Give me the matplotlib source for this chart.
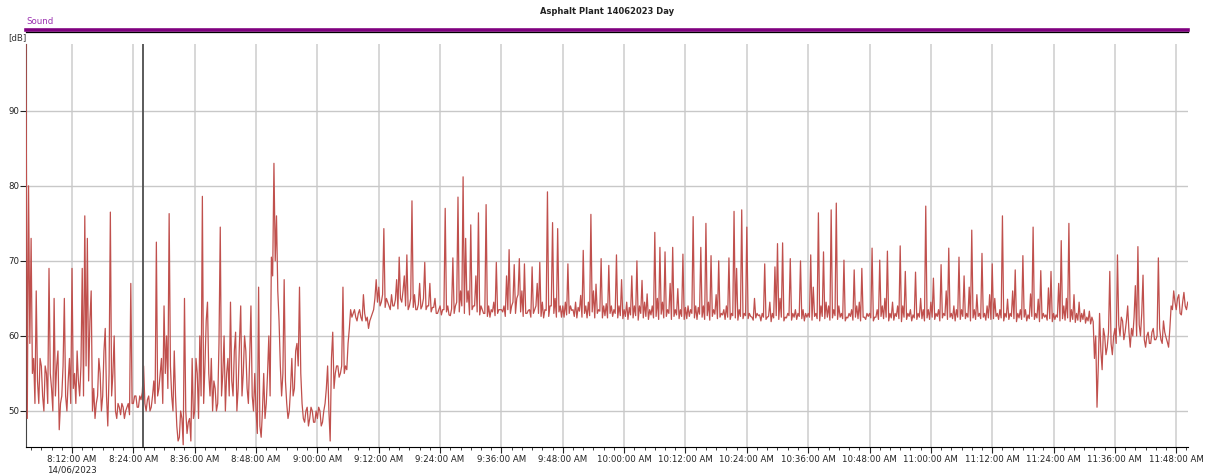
import matplotlib
matplotlib.use('Agg')
import matplotlib.dates as mdates
import matplotlib.pyplot as plt
import pandas as pd
from matplotlib.lines import Line2D
from matplotlib.ticker import FuncFormatter

TITLE = 'Asphalt Plant 14062023 Day'
CHANNEL = 'Sound'
UNIT = '[dB]'
DATE_LABEL = '14/06/2023'
START = '2023-06-14 08:03:00'
END = '2023-06-14 11:50:12'
STEP = '15s'
CURSOR = '2023-06-14 08:25:50'
Y_TICKS = [50, 60, 70, 80, 90]

# sound level [dB] per 12 min block
# seg_xxxx   -> readings at :00 / :30
# seg_xxxx_b -> readings at :15 / :45
seg_0803 = [98.9, 80, 73, 57, 66, 51, 56, 50, 55, 69, 53, 65, 56, 47.5, 52, 65, 50, 57]
seg_0803_b = [49, 59, 55, 51, 54, 57, 52, 56, 51, 55, 50, 52, 58, 51, 56, 52, 54, 51]
seg_0812 = [69, 55, 58, 52, 69, 76, 73, 62, 50, 49, 52, 55, 52, 61, 48, 76.5, 55, 50, 51, 49.5, 50.5, 50, 51, 67]
seg_0812_b = [53, 51, 54, 56, 52, 56, 54, 66, 53, 51, 57, 50, 58, 52, 55, 52, 60, 49, 50.5, 51, 49, 50.5, 49.5, 51]
seg_0824 = [51, 52, 50.5, 51.5, 56, 50, 52, 50.5, 54, 72.5, 53, 57, 64, 60, 76.3, 52, 58, 48, 46.5, 49, 65, 47, 49, 57]
seg_0824_b = [52, 50.5, 52, 52.5, 51, 51.5, 50, 52, 51, 52, 55, 51, 55, 53, 56, 50, 52, 46, 50, 45.5, 50, 48.5, 46, 49]
seg_0836 = [50, 55, 60, 78.6, 56, 64.5, 52, 50, 53, 51, 74.5, 55, 50, 57, 64.5, 52, 60.5, 53, 64, 55, 58, 51, 64, 50]
seg_0836_b = [57, 49, 52, 51, 62, 55, 57, 54, 50, 59, 52, 60, 55, 52, 54, 58, 50, 59, 52, 60, 53, 57, 52, 55]
seg_0848 = [50, 66.5, 46.5, 55, 51, 60, 70.5, 83, 76, 62, 52, 67.5, 51, 50, 57, 53, 59, 66.5, 51, 48.5, 50.5, 49, 50, 48.5]
seg_0848_b = [47, 48, 50, 49, 55, 52, 68, 70, 66, 56, 55, 54, 49, 53, 52, 58, 56, 55, 49, 50, 48, 50.5, 48.5, 50]
seg_0900 = [49, 50, 48.5, 51, 56, 46, 60.5, 55, 56, 55, 66.5, 56, 59, 63.5, 63, 62.5, 63, 62.5, 65.5, 62, 61, 62.5, 63.5, 67.5]
seg_0900_b = [50.5, 48, 50, 53, 50, 57, 53, 56, 54.5, 56, 55, 55.5, 61, 62.5, 63.5, 62, 63.5, 62, 63, 62.5, 62, 63, 65, 64.5]
seg_0912 = [66.5, 64.5, 74.3, 65, 64, 65.5, 64, 67.5, 70.5, 64.5, 68, 70.8, 64, 78, 65.5, 63.5, 67, 64, 69.8, 64, 67, 63.8, 65, 63]
seg_0912_b = [64, 65.5, 63.8, 64.5, 63.5, 64, 64.8, 63.6, 65, 66, 64, 63.5, 65, 63.8, 63.5, 64.2, 63.6, 65, 63.5, 64, 63.2, 63.8, 63, 63.5]
seg_0924 = [64, 63.5, 77, 64, 62.7, 70.4, 64, 78.5, 66, 81.2, 73, 66, 74.8, 64, 68, 76.4, 64, 63, 77.5, 64, 63.5, 64.5, 69.8, 63.5]
seg_0924_b = [62.8, 63.5, 63.2, 62.8, 63.6, 63, 64.5, 63.2, 64, 63, 64.5, 62.8, 63.5, 64, 63.2, 62.8, 63.5, 63, 62.6, 62.5, 63.2, 62.7, 63, 63.5]
seg_0936 = [63.5, 64, 68, 71.5, 64, 69.5, 65, 70.3, 66, 69.6, 63, 63.5, 69.2, 63.5, 67, 69.8, 64.5, 63.5, 79.2, 64, 75.1, 65, 74.3, 64]
seg_0936_b = [63.2, 62.6, 63.5, 63, 64.5, 63, 65.5, 63.2, 62.6, 63, 63.4, 62.5, 63, 64, 63, 62.6, 62.4, 63.4, 62.6, 64, 63, 62.5, 63.2, 62.5]
seg_0948 = [64, 64.5, 69.6, 64, 63.5, 64.5, 63.8, 65.4, 71.4, 64, 64.5, 76.2, 66, 66.9, 63.5, 70.3, 64, 64.3, 69.4, 64, 63.5, 70.8, 64, 67.5]
seg_0948_b = [62.5, 62.8, 63, 63.4, 62.6, 62.4, 63.3, 62.5, 63, 62.4, 62.7, 63.2, 62.4, 63, 63.3, 62.4, 62.7, 62.4, 63, 62.6, 63, 62.4, 62.7, 62.3]
seg_1000 = [63.5, 64.5, 63.8, 68, 64, 70, 64, 67.4, 64.5, 65.6, 63.5, 64, 73.8, 65, 71.8, 64.5, 71.2, 63.5, 67, 71.8, 63.5, 66.3, 63.5, 70.9]
seg_1000_b = [62.6, 62.2, 62.8, 62.4, 62.7, 62.1, 63, 62.4, 62.6, 62.2, 62.8, 62.4, 62.6, 62.2, 62.9, 62.4, 62.6, 63, 62.2, 62.6, 62.8, 62.3, 62.6, 62.2]
seg_1012 = [63.8, 64, 63.5, 75.9, 64, 63.8, 71.8, 64, 75, 64.5, 70.7, 63.5, 65.5, 70, 63, 63.5, 64, 70.4, 63, 76.6, 69, 63.5, 76.8, 63]
seg_1012_b = [62.3, 62.6, 63, 62.4, 62.2, 62.9, 62.5, 62.2, 62.7, 62.1, 62.6, 62.9, 62.3, 62.5, 62.8, 62.2, 62.5, 62.2, 62.7, 62.4, 62.1, 62.6, 62.3, 62.7]
seg_1024 = [74.5, 63, 62.5, 65, 63, 62.8, 63, 69.6, 62.5, 64.5, 63, 69.2, 72.3, 65, 72.4, 62.5, 63, 70.3, 63, 63.5, 63, 70, 63.5, 63]
seg_1024_b = [62.3, 62.6, 62.1, 62.4, 62.7, 62, 62.5, 62.2, 62.6, 61.9, 62.4, 62.7, 62.2, 62.5, 62, 62.4, 62.7, 62.1, 62.5, 62.2, 62.6, 62.3, 62, 62.5]
seg_1036 = [63, 70.8, 66.5, 63, 76.4, 64, 71.2, 64.5, 64, 76.8, 63.5, 77.7, 64, 63, 70.1, 62.5, 63, 63.5, 68.8, 64, 64.5, 69, 62.5, 63]
seg_1036_b = [62.5, 62.1, 62.6, 62.3, 62, 62.6, 62.3, 62.5, 62.1, 62.4, 62.7, 62.2, 62.5, 62.3, 62, 62.4, 62.6, 62.1, 62.5, 62.3, 62, 62.5, 62.2, 62.6]
seg_1048 = [63, 71.7, 62.5, 63.5, 70.1, 64, 65, 71.3, 63, 64.5, 63, 64, 72, 64, 68.6, 63, 63.5, 62.8, 68.5, 63, 65, 63.5, 77.3, 63.5]
seg_1048_b = [62.4, 62, 62.5, 62.2, 62.6, 62.3, 62.5, 62, 62.4, 62.1, 62.6, 62.3, 61.9, 62.5, 62.2, 62.6, 62, 62.4, 62.2, 62.5, 62.3, 62, 62.4, 62.2]
seg_1100 = [64.5, 67.7, 63, 63.5, 69.5, 63, 66, 71.7, 63, 64, 63.5, 70.5, 63.5, 68, 63, 66.5, 74.1, 63.5, 65.5, 63, 71, 63, 64, 65.5]
seg_1100_b = [62.5, 62.2, 62.6, 62, 62.4, 62.7, 62.2, 62.5, 62.3, 62, 62.5, 62.2, 62.6, 62.3, 62.5, 62, 62.4, 62.2, 62.6, 62.3, 62.5, 62.1, 62.4, 62.2]
seg_1112 = [69.6, 65, 63, 63.5, 76, 63, 64.9, 63, 66, 68.8, 63, 63.5, 70.7, 63.5, 62.8, 65.6, 74.5, 63, 64.9, 68.7, 63, 62.8, 66.4, 68.6]
seg_1112_b = [62.3, 62.6, 62.2, 62.4, 62, 62.5, 62.2, 62.6, 62.3, 61.9, 62.4, 62.2, 62.5, 62, 62.3, 62.6, 62.2, 62.4, 61.9, 62.3, 62.5, 62.1, 62.3, 61.9]
seg_1124 = [63, 62.8, 67, 72.7, 64, 65, 75, 63.5, 65.5, 63, 64.5, 63, 63.5, 62.5, 63.3, 62.5, 57, 50.5, 63, 55.5, 60, 58.5, 68.6, 57.5]
seg_1124_b = [62.2, 62.5, 62, 62.3, 62.1, 62.4, 61.9, 62.2, 61.8, 62.1, 61.9, 62.2, 61.7, 62, 61.6, 61.9, 60, 56, 58, 61, 57.5, 60.5, 59, 60]
seg_1136 = [61, 70.8, 60, 62, 60.5, 64, 58.5, 60, 66.7, 71.9, 60, 68.1, 58.5, 60.5, 59, 61, 59.5, 70.4, 59.5, 62, 59.8, 58.5, 64, 66]
seg_1136_b = [59, 61.5, 62.5, 59.5, 62, 60.5, 61, 62.5, 60, 61.5, 63, 59.5, 60, 59, 60.5, 59.5, 60, 61, 59, 60.5, 59.2, 61, 63.5, 64.5]
seg_1148 = [63.5, 65.5, 62.8, 65.8, 63.5]
seg_1148_b = [65, 63, 64.5, 64, 64.5]

blocks = [
    (seg_0803, seg_0803_b), (seg_0812, seg_0812_b), (seg_0824, seg_0824_b),
    (seg_0836, seg_0836_b), (seg_0848, seg_0848_b), (seg_0900, seg_0900_b),
    (seg_0912, seg_0912_b), (seg_0924, seg_0924_b), (seg_0936, seg_0936_b),
    (seg_0948, seg_0948_b), (seg_1000, seg_1000_b), (seg_1012, seg_1012_b),
    (seg_1024, seg_1024_b), (seg_1036, seg_1036_b), (seg_1048, seg_1048_b),
    (seg_1100, seg_1100_b), (seg_1112, seg_1112_b), (seg_1124, seg_1124_b),
    (seg_1136, seg_1136_b), (seg_1148, seg_1148_b),
]
levels = [v for a, b in blocks for pair in zip(a, b) for v in pair]
times = pd.date_range(START, periods=len(levels), freq=STEP)

W, H = 1206, 474
fig = plt.figure(figsize=(W / 100, H / 100), dpi=100)
ax = fig.add_axes([26 / W, 27 / H, 1161.5 / W, 403 / H])

ax.plot(times, levels, color='#C0504D', lw=0.9, zorder=3)
ax.axvline(pd.Timestamp(CURSOR), color='#5a5a5a', lw=1.4, zorder=4)

ax.set_xlim(pd.Timestamp(START), pd.Timestamp(END))
ax.set_ylim(45.2, 98.9)
ax.set_yticks(Y_TICKS)


def fmt_tick(value, pos):
    t = mdates.num2date(value)
    label = f'{t.hour % 12 or 12}:{t:%M:%S} {t:%p}'
    if t.hour == 8 and t.minute == 12:
        label += '\n' + DATE_LABEL
    return label


ax.xaxis.set_major_locator(mdates.MinuteLocator(byminute=[0, 12, 24, 36, 48]))
ax.xaxis.set_minor_locator(mdates.MinuteLocator(byminute=range(0, 60, 2)))
ax.xaxis.set_major_formatter(FuncFormatter(fmt_tick))

ax.tick_params(axis='x', which='major', length=4, width=0.8, labelsize=6.2, pad=2, colors='#222222')
ax.tick_params(axis='x', which='minor', length=2, width=0.6, color='#222222')
ax.tick_params(axis='y', length=4, width=0.8, labelsize=6.2, pad=1, colors='#222222')

ax.grid(axis='y', color='#c8c8c8', lw=1.0, zorder=0)
ax.grid(axis='x', which='major', color='#d4d4d4', lw=1.3, zorder=0)
for side in ('top', 'right'):
    ax.spines[side].set_visible(False)
ax.spines['left'].set_color('#444444')
ax.spines['bottom'].set_color('#000000')

# header strip
fig.add_artist(Line2D([26 / W, 1188 / W], [1 - 30 / H] * 2, color='#800080', lw=2.6, transform=fig.transFigure))
fig.add_artist(Line2D([26 / W, 1188 / W], [1 - 32.2 / H] * 2, color='#000000', lw=0.9, transform=fig.transFigure))
fig.text(607 / W, 1 - 11 / H, TITLE, ha='center', va='center', fontsize=6, fontweight='bold', color='#222222')
fig.text(26 / W, 1 - 22 / H, CHANNEL, ha='left', va='center', fontsize=6.2, color='#9b30b0')
fig.text(8 / W, 1 - 38 / H, UNIT, ha='left', va='center', fontsize=6.2, color='#333333')

fig.savefig('out.png', dpi=100)
